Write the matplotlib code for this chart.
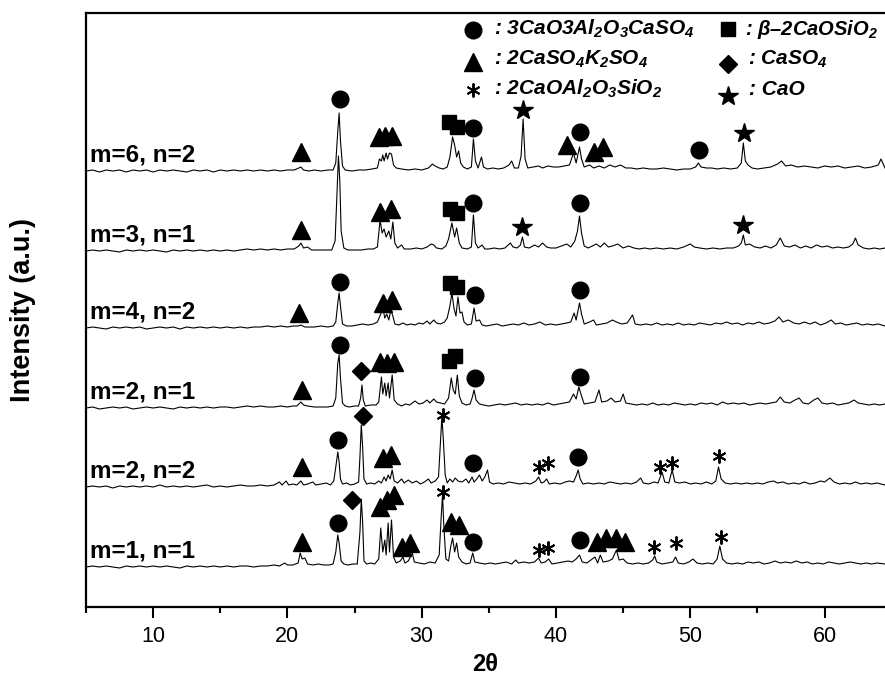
import matplotlib.pyplot as plt
from matplotlib.ticker import MultipleLocator

plt.rcParams['font.family'] = ['Liberation Sans', 'DejaVu Sans']
plt.rcParams['mathtext.fontset'] = 'custom'
for k in ['rm', 'it', 'bf', 'sf']:
    plt.rcParams['mathtext.' + k] = 'Liberation Sans:italic:bold'

# --- DATA ---
sample_labels = ['m=6, n=2', 'm=3, n=1', 'm=4, n=2', 'm=2, n=1', 'm=2, n=2', 'm=1, n=1']
stack_offsets = [436, 356, 279, 199, 120, 40]

# (2theta, intensity above own baseline)
m6_n2 = [(5.0, 0), (5.5, 1), (6.0, -1), (6.5, 1), (7.0, 0), (7.5, 1), (8.0, -1), (8.5, 1), (9.0, 0),
         (9.5, 1), (10.0, -1), (10.5, 1), (11.0, 0), (11.5, 1), (12.0, 0), (12.5, -1), (13.0, 1),
         (13.5, 0), (14.0, 1), (14.5, -1), (15.0, 1), (15.5, 0), (16.0, 1), (16.5, 0), (17.0, 1),
         (17.5, 0), (18.0, 1), (18.5, 0), (19.0, 1), (19.5, 0), (20.0, 1), (20.5, 1), (20.85, 3),
         (21.0, 4), (21.2, 1), (21.6, 0), (22.0, 1), (22.5, 0), (23.0, 1), (23.4, 1), (23.6, 8),
         (23.75, 40), (23.85, 58), (23.95, 30), (24.1, 5), (24.3, 1), (24.8, 0), (25.3, 1), (25.8, 1),
         (26.3, 2), (26.7, 3), (26.85, 12), (27.0, 10), (27.1, 16), (27.2, 10), (27.35, 18), (27.45, 12),
         (27.6, 18), (27.75, 17), (27.9, 6), (28.1, 3), (28.5, 2), (29.0, 1), (29.5, 2), (30.0, 1),
         (30.5, 3), (30.8, 7), (31.0, 5), (31.3, 3), (31.6, 2), (31.9, 4), (32.1, 14), (32.3, 34),
         (32.45, 26), (32.6, 14), (32.75, 20), (32.9, 8), (33.1, 4), (33.4, 2), (33.7, 4), (33.85, 32),
         (34.0, 10), (34.2, 3), (34.45, 14), (34.6, 4), (34.9, 2), (35.3, 3), (35.7, 2), (36.1, 3),
         (36.5, 6), (36.7, 10), (36.9, 3), (37.2, 3), (37.4, 15), (37.55, 52), (37.7, 12), (37.9, 3),
         (38.3, 4), (38.7, 5), (39.0, 3), (39.4, 5), (39.8, 4), (40.2, 4), (40.6, 5), (41.0, 6),
         (41.3, 18), (41.5, 8), (41.75, 24), (41.9, 12), (42.1, 4), (42.5, 6), (42.8, 3), (43.2, 5),
         (43.6, 3), (44.0, 6), (44.4, 4), (44.8, 6), (45.2, 3), (45.6, 3), (46.0, 2), (46.5, 3),
         (47.0, 2), (47.5, 2), (48.0, 3), (48.5, 2), (49.0, 1), (49.5, 2), (50.0, 2), (50.4, 4),
         (50.6, 8), (50.8, 4), (51.2, 3), (51.6, 3), (52.0, 2), (52.5, 3), (53.0, 2), (53.5, 3),
         (53.8, 8), (53.95, 28), (54.1, 10), (54.3, 6), (54.6, 3), (55.0, 2), (55.5, 3), (56.0, 4),
         (56.5, 7), (56.8, 10), (57.1, 5), (57.5, 6), (58.0, 4), (58.5, 5), (59.0, 4), (59.5, 3),
         (60.0, 5), (60.5, 4), (61.0, 5), (61.5, 3), (62.0, 4), (62.5, 5), (63.0, 3), (63.5, 4),
         (64.0, 6), (64.2, 12), (64.5, 3)]

m3_n1 = [(5.0, 0), (5.5, 1), (6.0, 0), (6.5, 1), (7.0, 0), (7.5, -1), (8.0, 1), (8.5, 0), (9.0, 1),
         (9.5, 0), (10.0, 1), (10.5, 0), (11.0, -1), (11.5, 1), (12.0, 0), (12.5, 1), (13.0, 0),
         (13.5, 1), (14.0, 0), (14.5, 1), (15.0, 0), (15.5, 1), (16.0, 0), (16.5, 1), (17.0, 2),
         (17.5, 1), (18.0, 2), (18.5, 1), (19.0, 2), (19.5, 1), (20.0, 2), (20.5, 2), (20.85, 5),
         (21.0, 8), (21.2, 3), (21.5, 4), (21.8, 1), (22.3, 1), (22.8, 1), (23.3, 1), (23.55, 10),
         (23.7, 60), (23.8, 95), (23.9, 70), (24.0, 20), (24.2, 3), (24.5, 1), (25.0, 1), (25.5, 1),
         (26.0, 2), (26.4, 2), (26.7, 4), (26.9, 31), (27.05, 18), (27.2, 22), (27.35, 14), (27.55, 20),
         (27.7, 12), (27.85, 29), (28.0, 8), (28.2, 3), (28.5, 6), (28.7, 2), (29.2, 2), (29.6, 3),
         (30.0, 2), (30.4, 4), (30.7, 7), (30.9, 6), (31.1, 3), (31.5, 2), (31.8, 5), (32.0, 12),
         (32.25, 28), (32.45, 14), (32.6, 23), (32.8, 8), (33.0, 3), (33.4, 2), (33.7, 4), (33.85, 36),
         (34.0, 8), (34.2, 3), (34.5, 6), (34.7, 2), (35.0, 2), (35.4, 3), (35.8, 2), (36.2, 3),
         (36.6, 8), (36.8, 4), (37.1, 3), (37.35, 6), (37.5, 14), (37.65, 4), (38.0, 3), (38.4, 6),
         (38.7, 4), (39.0, 8), (39.3, 4), (39.6, 3), (40.0, 3), (40.4, 5), (40.8, 7), (41.1, 4),
         (41.4, 10), (41.6, 20), (41.75, 35), (41.9, 18), (42.1, 5), (42.4, 3), (42.7, 5), (43.0, 7),
         (43.3, 4), (43.6, 8), (43.9, 4), (44.2, 5), (44.6, 7), (45.0, 3), (45.4, 5), (45.8, 3),
         (46.2, 2), (46.6, 3), (47.0, 2), (47.5, 3), (48.0, 2), (48.5, 3), (49.0, 2), (49.5, 4),
         (50.0, 7), (50.3, 4), (50.7, 3), (51.2, 2), (51.7, 3), (52.2, 2), (52.7, 3), (53.2, 3),
         (53.6, 5), (53.8, 8), (53.95, 16), (54.1, 6), (54.4, 7), (54.8, 4), (55.2, 3), (55.6, 5),
         (56.0, 3), (56.4, 6), (56.7, 13), (57.0, 5), (57.4, 4), (57.8, 6), (58.2, 3), (58.6, 5),
         (59.0, 3), (59.4, 6), (59.8, 4), (60.2, 5), (60.6, 3), (61.0, 4), (61.4, 3), (61.8, 4),
         (62.1, 7), (62.3, 13), (62.5, 6), (62.9, 3), (63.3, 2), (63.7, 3), (64.1, 2), (64.5, 3)]

m4_n2 = [(5.0, 0), (5.5, 1), (6.0, 0), (6.5, -1), (7.0, 1), (7.5, 0), (8.0, 1), (8.5, 0), (9.0, 1),
         (9.5, -1), (10.0, 0), (10.5, 1), (11.0, 0), (11.5, 1), (12.0, -1), (12.5, 1), (13.0, 0),
         (13.5, 1), (14.0, 0), (14.5, 1), (15.0, 0), (15.5, 1), (16.0, 0), (16.5, 1), (17.0, 0),
         (17.5, 1), (18.0, 1), (18.5, 2), (19.0, 1), (19.5, 2), (20.0, 1), (20.4, 2), (20.8, 2),
         (21.0, 3), (21.3, 1), (22.0, 1), (22.5, 2), (23.0, 1), (23.4, 2), (23.6, 6), (23.75, 25),
         (23.85, 35), (23.95, 22), (24.1, 4), (24.4, 2), (24.8, 2), (25.2, 3), (25.6, 4), (26.0, 3),
         (26.4, 4), (26.7, 6), (26.95, 14), (27.1, 21), (27.25, 10), (27.4, 14), (27.55, 8), (27.7, 18),
         (27.85, 12), (28.0, 4), (28.3, 3), (28.6, 5), (28.9, 3), (29.2, 4), (29.5, 3), (29.8, 5),
         (30.1, 4), (30.4, 7), (30.6, 4), (30.9, 8), (31.1, 5), (31.4, 4), (31.7, 6), (31.9, 10),
         (32.1, 22), (32.25, 35), (32.4, 20), (32.55, 12), (32.7, 31), (32.85, 15), (33.0, 16),
         (33.15, 6), (33.4, 3), (33.7, 4), (33.9, 20), (34.05, 7), (34.3, 8), (34.5, 3), (34.8, 2),
         (35.2, 3), (35.6, 4), (36.0, 2), (36.4, 3), (36.8, 4), (37.2, 3), (37.6, 5), (38.0, 3),
         (38.4, 4), (38.8, 6), (39.2, 3), (39.6, 4), (40.0, 3), (40.4, 4), (40.8, 5), (41.1, 6),
         (41.35, 15), (41.5, 8), (41.75, 25), (41.9, 14), (42.1, 4), (42.5, 6), (42.8, 8), (43.0, 3),
         (43.4, 4), (43.8, 5), (44.2, 8), (44.5, 6), (44.9, 4), (45.3, 5), (45.7, 13), (45.9, 4),
         (46.3, 3), (46.7, 4), (47.1, 3), (47.5, 5), (47.9, 3), (48.3, 4), (48.7, 3), (49.1, 5),
         (49.5, 3), (49.9, 4), (50.3, 3), (50.7, 5), (51.1, 4), (51.5, 3), (51.9, 5), (52.3, 4),
         (52.7, 6), (53.1, 4), (53.5, 5), (53.9, 3), (54.3, 5), (54.7, 4), (55.1, 6), (55.5, 4),
         (55.9, 5), (56.3, 7), (56.6, 11), (56.9, 6), (57.3, 8), (57.7, 5), (58.1, 4), (58.5, 6),
         (58.9, 4), (59.3, 6), (59.7, 3), (60.1, 5), (60.5, 8), (60.8, 4), (61.2, 5), (61.6, 3),
         (62.0, 4), (62.4, 5), (62.8, 3), (63.2, 4), (63.6, 3), (64.0, 4), (64.5, 2)]

m2_n1 = [(5.0, 0), (5.5, 1), (6.0, -1), (6.5, 0), (7.0, 1), (7.5, 0), (8.0, 1), (8.5, -1), (9.0, 0),
         (9.5, 1), (10.0, 0), (10.5, 1), (11.0, 0), (11.5, -1), (12.0, 1), (12.5, 0), (13.0, 1),
         (13.5, 0), (14.0, 1), (14.5, 0), (15.0, 1), (15.5, 1), (16.0, 0), (16.5, 1), (17.0, 2),
         (17.5, 1), (18.0, 2), (18.5, 1), (19.0, 1), (19.5, 2), (20.0, 1), (20.4, 2), (20.7, 2),
         (21.0, 6), (21.2, 3), (21.5, 2), (22.0, 1), (22.5, 1), (23.0, 1), (23.4, 2), (23.6, 10),
         (23.75, 45), (23.85, 53), (23.95, 30), (24.1, 5), (24.3, 2), (24.6, 1), (25.0, 2), (25.3, 2),
         (25.45, 10), (25.55, 23), (25.65, 8), (25.8, 2), (26.2, 3), (26.6, 3), (26.8, 6), (27.0, 31),
         (27.1, 14), (27.25, 25), (27.35, 12), (27.5, 25), (27.6, 10), (27.8, 33), (27.95, 8),
         (28.2, 4), (28.5, 2), (28.8, 4), (29.1, 3), (29.5, 7), (29.8, 4), (30.1, 5), (30.4, 8),
         (30.6, 5), (30.9, 9), (31.1, 6), (31.4, 5), (31.7, 4), (32.0, 10), (32.2, 30), (32.35, 18),
         (32.5, 14), (32.65, 33), (32.8, 12), (33.0, 5), (33.3, 3), (33.6, 4), (33.75, 10), (33.9, 18),
         (34.05, 8), (34.3, 4), (34.6, 3), (35.0, 2), (35.4, 3), (35.8, 4), (36.2, 3), (36.6, 4),
         (37.0, 5), (37.4, 3), (37.8, 4), (38.2, 3), (38.6, 4), (39.0, 3), (39.4, 5), (39.8, 3),
         (40.2, 4), (40.6, 5), (41.0, 6), (41.3, 14), (41.5, 9), (41.7, 21), (41.9, 12), (42.1, 4),
         (42.5, 5), (42.9, 6), (43.2, 18), (43.4, 6), (43.8, 7), (44.1, 10), (44.4, 6), (44.8, 7),
         (45.0, 14), (45.2, 5), (45.6, 4), (46.0, 3), (46.4, 4), (46.8, 3), (47.2, 5), (47.6, 3),
         (48.0, 4), (48.4, 3), (48.8, 5), (49.2, 4), (49.6, 3), (50.0, 4), (50.4, 3), (50.8, 5),
         (51.2, 4), (51.6, 5), (52.0, 3), (52.4, 6), (52.8, 4), (53.2, 5), (53.6, 4), (54.0, 5),
         (54.4, 3), (54.8, 4), (55.2, 5), (55.6, 4), (56.0, 5), (56.4, 6), (56.7, 11), (57.0, 6),
         (57.4, 5), (57.8, 8), (58.1, 10), (58.4, 5), (58.8, 4), (59.2, 8), (59.5, 10), (59.8, 5),
         (60.2, 4), (60.6, 5), (61.0, 3), (61.4, 4), (61.8, 5), (62.2, 8), (62.5, 5), (62.9, 4),
         (63.3, 3), (63.7, 4), (64.1, 3), (64.5, 4)]

m2_n2 = [(5.0, 0), (5.5, 1), (6.0, 0), (6.5, 1), (7.0, -1), (7.5, 1), (8.0, 0), (8.5, 1), (9.0, 0),
         (9.5, 1), (10.0, 0), (10.5, 2), (11.0, 0), (11.5, 1), (12.0, 0), (12.5, 1), (13.0, 0),
         (13.5, 1), (14.0, 2), (14.5, 0), (15.0, 1), (15.5, 0), (16.0, 1), (16.5, 2), (17.0, 1),
         (17.5, 1), (18.0, 2), (18.5, 1), (19.0, 2), (19.4, 5), (19.6, 2), (19.9, 6), (20.1, 2),
         (20.4, 3), (20.7, 2), (21.0, 6), (21.2, 2), (21.5, 3), (21.9, 5), (22.1, 2), (22.5, 3),
         (22.9, 4), (23.2, 2), (23.45, 6), (23.6, 20), (23.75, 35), (23.85, 25), (23.95, 8), (24.1, 3),
         (24.4, 4), (24.7, 2), (25.0, 3), (25.3, 5), (25.4, 30), (25.5, 62), (25.6, 40), (25.7, 8),
         (25.9, 3), (26.2, 4), (26.5, 3), (26.8, 6), (27.0, 4), (27.2, 10), (27.35, 6), (27.5, 12),
         (27.65, 8), (27.8, 17), (27.95, 6), (28.2, 4), (28.5, 8), (28.7, 4), (29.0, 7), (29.3, 4),
         (29.6, 6), (29.9, 3), (30.2, 5), (30.5, 8), (30.7, 4), (31.0, 6), (31.25, 10), (31.4, 45),
         (31.5, 70), (31.6, 50), (31.75, 12), (31.9, 4), (32.1, 8), (32.3, 5), (32.5, 9), (32.7, 6),
         (33.0, 5), (33.3, 8), (33.5, 4), (33.75, 10), (33.9, 5), (34.1, 8), (34.3, 12), (34.5, 6),
         (34.7, 10), (34.9, 17), (35.05, 5), (35.3, 3), (35.7, 4), (36.1, 3), (36.5, 5), (36.9, 4),
         (37.3, 3), (37.7, 4), (38.1, 3), (38.5, 6), (38.7, 10), (38.9, 4), (39.1, 5), (39.3, 8),
         (39.5, 3), (39.9, 4), (40.3, 3), (40.7, 5), (41.0, 6), (41.3, 5), (41.5, 11), (41.65, 17),
         (41.8, 8), (42.0, 3), (42.4, 4), (42.8, 3), (43.2, 4), (43.6, 3), (44.0, 5), (44.4, 4),
         (44.8, 3), (45.2, 4), (45.6, 3), (46.0, 5), (46.3, 9), (46.5, 4), (46.9, 3), (47.3, 5),
         (47.6, 4), (47.9, 15), (48.1, 5), (48.4, 4), (48.65, 17), (48.85, 5), (49.2, 4), (49.6, 5),
         (50.0, 3), (50.4, 4), (50.8, 3), (51.2, 5), (51.6, 3), (51.9, 6), (52.1, 20), (52.3, 8),
         (52.6, 4), (53.0, 3), (53.4, 4), (53.8, 3), (54.2, 4), (54.6, 3), (55.0, 4), (55.4, 3),
         (55.8, 5), (56.2, 6), (56.5, 4), (56.9, 5), (57.3, 3), (57.7, 4), (58.1, 3), (58.5, 5),
         (58.9, 3), (59.3, 4), (59.7, 6), (60.0, 5), (60.4, 9), (60.7, 5), (61.1, 3), (61.5, 4),
         (61.9, 3), (62.3, 5), (62.7, 3), (63.1, 4), (63.5, 3), (63.9, 4), (64.5, 2)]

m1_n1 = [(5.0, 0), (5.5, 1), (6.0, 0), (6.5, 1), (7.0, 0), (7.5, -1), (8.0, 1), (8.5, 0), (9.0, 1),
         (9.5, 0), (10.0, 1), (10.5, 0), (11.0, 1), (11.5, 0), (12.0, -1), (12.5, 1), (13.0, 0),
         (13.5, 1), (14.0, 0), (14.5, 1), (15.0, 0), (15.5, 1), (16.0, 0), (16.5, 1), (17.0, 1),
         (17.5, 0), (18.0, 1), (18.5, 1), (19.0, 2), (19.4, 1), (19.8, 4), (20.0, 2), (20.4, 2),
         (20.8, 4), (20.95, 14), (21.1, 8), (21.3, 9), (21.5, 3), (21.9, 2), (22.3, 3), (22.7, 2),
         (23.1, 2), (23.4, 3), (23.6, 15), (23.75, 32), (23.85, 24), (24.0, 6), (24.2, 3), (24.5, 2),
         (24.9, 3), (25.2, 3), (25.4, 35), (25.5, 68), (25.6, 45), (25.7, 6), (25.9, 3), (26.2, 4),
         (26.5, 3), (26.8, 8), (26.95, 39), (27.1, 15), (27.25, 27), (27.35, 12), (27.5, 44), (27.6, 15),
         (27.75, 47), (27.9, 10), (28.1, 4), (28.4, 6), (28.6, 10), (28.75, 4), (29.0, 6), (29.3, 14),
         (29.45, 5), (29.8, 4), (30.2, 3), (30.6, 5), (31.0, 4), (31.3, 12), (31.45, 50), (31.55, 72),
         (31.65, 40), (31.8, 8), (32.0, 6), (32.15, 20), (32.3, 29), (32.45, 15), (32.6, 24),
         (32.75, 10), (33.0, 5), (33.3, 3), (33.6, 4), (33.8, 14), (33.95, 5), (34.3, 4), (34.7, 3),
         (35.1, 4), (35.5, 3), (35.9, 4), (36.3, 5), (36.7, 3), (37.0, 7), (37.2, 4), (37.6, 5),
         (38.0, 4), (38.4, 5), (38.7, 9), (38.9, 4), (39.2, 5), (39.45, 8), (39.7, 3), (40.1, 4),
         (40.5, 5), (40.9, 6), (41.2, 5), (41.5, 8), (41.75, 12), (41.95, 5), (42.3, 4), (42.7, 8),
         (42.9, 10), (43.1, 4), (43.3, 12), (43.5, 5), (43.9, 6), (44.2, 8), (44.5, 17), (44.7, 7),
         (45.0, 8), (45.3, 4), (45.7, 3), (46.1, 4), (46.5, 3), (46.9, 4), (47.2, 7), (47.35, 11),
         (47.5, 5), (47.9, 3), (48.3, 4), (48.7, 5), (48.9, 10), (49.1, 4), (49.5, 3), (49.9, 5),
         (50.2, 8), (50.5, 4), (50.9, 3), (51.3, 4), (51.7, 3), (52.0, 8), (52.2, 21), (52.4, 8),
         (52.7, 4), (53.1, 3), (53.5, 4), (53.9, 3), (54.3, 5), (54.7, 4), (55.1, 5), (55.5, 3),
         (55.9, 4), (56.3, 6), (56.7, 4), (57.1, 5), (57.5, 4), (57.9, 6), (58.3, 4), (58.7, 5),
         (59.1, 3), (59.5, 4), (59.9, 3), (60.3, 5), (60.7, 4), (61.1, 3), (61.5, 4), (61.9, 5),
         (62.3, 4), (62.7, 3), (63.1, 4), (63.5, 3), (63.9, 4), (64.5, 3)]

traces = [m6_n2, m3_n1, m4_n2, m2_n1, m2_n2, m1_n1]

# phase peak labels: (phase, 2theta, height above baseline)
m6_marks = [('KCS', 21.0, 19), ('C4A3S', 23.95, 72), ('KCS', 26.8, 34), ('KCS', 27.3, 35),
            ('KCS', 27.8, 35), ('C2S', 32.0, 49), ('C2S', 32.65, 44), ('C4A3S', 33.8, 43),
            ('CaO', 37.55, 61), ('KCS', 40.85, 26), ('C4A3S', 41.8, 39), ('KCS', 42.8, 19),
            ('KCS', 43.5, 24), ('C4A3S', 50.65, 21), ('CaO', 54.0, 38)]
m3_marks = [('KCS', 21.0, 21), ('KCS', 26.9, 39), ('KCS', 27.7, 42), ('C2S', 32.1, 42),
            ('C2S', 32.65, 38), ('C4A3S', 33.8, 48), ('CaO', 37.5, 24), ('C4A3S', 41.8, 48),
            ('CaO', 53.9, 26)]
m4_marks = [('KCS', 20.85, 15), ('C4A3S', 23.95, 46), ('KCS', 27.15, 25), ('KCS', 27.8, 28),
            ('C2S', 32.1, 45), ('C2S', 32.65, 41), ('C4A3S', 34.0, 33), ('C4A3S', 41.8, 38)]
m2n1_marks = [('KCS', 21.1, 18), ('C4A3S', 23.95, 63), ('CS', 25.5, 37), ('KCS', 26.9, 46),
              ('KCS', 27.45, 45), ('KCS', 27.9, 46), ('C2S', 32.0, 47), ('C2S', 32.5, 52),
              ('C4A3S', 34.0, 30), ('C4A3S', 41.8, 31)]
m2n2_marks = [('KCS', 21.05, 20), ('C4A3S', 23.75, 47), ('CS', 25.6, 71), ('KCS', 27.15, 29),
              ('KCS', 27.7, 32), ('C2AS', 31.55, 72), ('C4A3S', 33.8, 24), ('C2AS', 38.7, 20),
              ('C2AS', 39.4, 24), ('C4A3S', 41.65, 30), ('C2AS', 47.75, 20), ('C2AS', 48.65, 24),
              ('C2AS', 52.15, 31)]
m1_marks = [('KCS', 21.05, 25), ('C4A3S', 23.8, 44), ('CS', 24.8, 67), ('KCS', 26.9, 60),
            ('KCS', 27.45, 67), ('KCS', 27.9, 72), ('KCS', 28.55, 20), ('KCS', 29.15, 24),
            ('C2AS', 31.55, 75), ('KCS', 32.15, 45), ('KCS', 32.75, 42), ('C4A3S', 33.8, 25),
            ('C2AS', 38.7, 17), ('C2AS', 39.4, 19), ('C4A3S', 41.8, 27), ('KCS', 43.05, 25),
            ('KCS', 43.75, 29), ('KCS', 44.5, 29), ('KCS', 45.15, 25), ('C2AS', 47.3, 20),
            ('C2AS', 48.95, 24), ('C2AS', 52.3, 30)]
marks = [m6_marks, m3_marks, m4_marks, m2n1_marks, m2n2_marks, m1_marks]

# legend key
legend_phases = ['C4A3S', 'KCS', 'C2AS', 'C2S', 'CS', 'CaO']
legend_texts = [': 3CaO3Al$_2$O$_3$CaSO$_4$', ': 2CaSO$_4$K$_2$SO$_4$', ': 2CaOAl$_2$O$_3$SiO$_2$',
                ': \u03b2\u20132CaOSiO$_2$', ': CaSO$_4$', ': CaO']

# --- STYLE ---
marker_style = {
    'C4A3S': dict(marker='o', markersize=12),
    'KCS': dict(marker='^', markersize=13),
    'C2S': dict(marker='s', markersize=10),
    'CS': dict(marker='D', markersize=9),
    'C2AS': dict(marker=(6, 2, 0), markersize=10, markeredgewidth=1.4),
    'CaO': dict(marker='*', markersize=15),
}

fig = plt.figure(figsize=(8.85, 6.77), dpi=100)
ax = fig.add_axes([86 / 885, 70 / 677, 799 / 885, 594 / 677])

for label, off, trace, mk in zip(sample_labels, stack_offsets, traces, marks):
    xs = [p[0] for p in trace]
    ys = [off + p[1] for p in trace]
    ax.plot(xs, ys, color='black', linewidth=0.8)
    ax.text(5.3, off + 16, label, fontsize=17.5, fontweight='bold', va='center', ha='left')
    for phase, pos, h in mk:
        ax.plot(pos, off + h, linestyle='none', color='black', **marker_style[phase])

# legend block in the top right
legend_x = [33.85, 33.85, 33.85, 52.8, 52.8, 52.8]
legend_y = [577, 545, 517, 578, 543, 511]
text_x = [35.35, 35.35, 35.35, 54.1, 54.3, 54.4]
text_y = [572, 542, 512, 572, 542, 512]
legend_sizes = [15, 15, 15, 14.5, 15, 15]
for ph, lx, ly, tx, ty, txt, fs in zip(legend_phases, legend_x, legend_y, text_x, text_y,
                                       legend_texts, legend_sizes):
    ax.plot(lx, ly, linestyle='none', color='black', **marker_style[ph])
    ax.text(tx, ty, txt, fontsize=fs, fontweight='bold', fontstyle='italic', va='baseline', ha='left')

ax.set_xlim(5, 64.5)
ax.set_ylim(0, 594)
ax.xaxis.set_major_locator(MultipleLocator(10))
ax.xaxis.set_minor_locator(MultipleLocator(5))
ax.tick_params(axis='x', which='major', direction='out', length=8, width=1.5, labelsize=15.5, pad=6)
ax.tick_params(axis='x', which='minor', direction='out', length=4, width=1.5)
ax.set_yticks([])
for side in ['left', 'bottom', 'top']:
    ax.spines[side].set_linewidth(1.6)
ax.spines['right'].set_visible(False)

ax.set_xlabel('2\u03b8', fontsize=17, fontweight='bold', labelpad=4)
ax.set_ylabel('Intensity (a.u.)', fontsize=19.5, fontweight='bold', labelpad=36)

fig.savefig('out.png', dpi=100)
